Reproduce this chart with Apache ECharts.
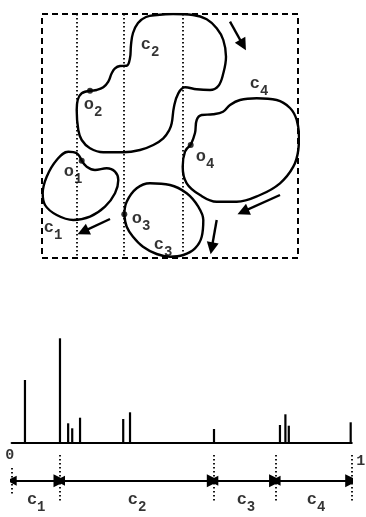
<!DOCTYPE html>
<html><head><meta charset="utf-8">
<script src="https://cdn.jsdelivr.net/npm/echarts@6/dist/echarts.min.js"></script>
<style>html,body{margin:0;padding:0;background:#fff}#c{width:366px;height:517px}</style>
</head><body><div id="c"></div>
<script>
// ---------- top panel (coordinates in panel units) ----------
const boxCorners = [[42,14],[298,14],[298,258],[42,258],[42,14]];
const stripLines = [77, 124, 183];
const curveC1 = [[81.7,160.7],[86.7,166.7],[95,170],[106.7,168.3],[115,171.7],[118.3,180],[115,193.3],[105,206.7],[90,216.7],[73.3,220],[56.7,215],[45,205],[42.7,193.3],[46.7,176.7],[56.7,160],[68.3,151.7],[76.7,153.3],[81.7,160.7]];
const curveC2 = [[90,90.7],[96.7,90],[103.3,87.3],[108.3,81.7],[111.7,73.3],[115,68.3],[120,66],[126.7,65.7],[130,58],[131,45],[133,33],[138,23],[146,17],[157,15],[173,14],[193,15],[206.7,19.3],[216.7,28.3],[223.3,40],[226,56.7],[223.3,73.3],[218.3,86],[210,90],[196.7,89.3],[185,87.3],[178.3,93.3],[174,106.7],[171.7,123.3],[169.3,130],[163.3,138.3],[153.3,145],[140,150],[123.3,152.3],[103.3,152.3],[90,148.3],[81.7,140],[78.3,130],[76.7,110],[77.7,100],[81.7,93.3],[90,90.7]];
const curveC3 = [[124.3,214.3],[126.7,201.7],[136.7,188.3],[150,183.3],[170,185],[186.7,193.3],[198.3,206.7],[203.3,220],[201.7,236.7],[195,248.3],[183.3,255],[170,256.7],[156.7,254],[143,246.7],[133,236.7],[126.7,226.7],[124.3,214.3]];
const curveC4 = [[190.7,145],[195,133],[196.7,120],[201.7,115],[213,114.3],[223,111.7],[230,105],[240,100],[256.7,98.3],[276.7,100],[290,108],[296.7,120],[299,136.7],[298.3,150],[293.3,166.7],[280,183.3],[260,195],[236.7,201.7],[216.7,201.7],[200,195],[186.7,183.3],[182.7,166.7],[185,151.7],[190.7,145]];
const startPoints = [[81.7,160.7],[90,90.7],[124.3,214.3],[190.7,145]];
const arrows = [[[230,21.7],[243,45]],[[280,195],[243,211.7]],[[216.7,220],[211.7,248.3]],[[110,219],[83,231.7]]];
const topLabels = [['c','2',150,45],['c','4',259,84],['c','1',53,228],['c','3',163,245],['o','1',73,172],['o','2',93,105],['o','3',141,219],['o','4',205,157]];

// ---------- bottom panel ----------
const spikeX = [0.039,0.142,0.166,0.178,0.201,0.328,0.348,0.595,0.789,0.805,0.815,0.997];
const spikeH = [62.7,104.4,19.4,14.4,25,23.7,30.4,13.7,17.7,28.4,17,20.4];
const bounds = [0,0.142,0.593,0.776,1];
const segLabels = ['1','2','3','4'];
const segLabelX = [0.072,0.369,0.689,0.895];
const endLabels = [['0',0,5],['1',1,11]];

const rich = {
  m:{fontFamily:'Liberation Mono',fontWeight:'bold',fontSize:17,color:'#000'},
  s:{fontFamily:'Liberation Mono',fontWeight:'bold',fontSize:14,color:'#000',padding:[15,0,0,0]}
};

const series = [];
// dashed box
series.push({type:'line',xAxisIndex:0,yAxisIndex:0,data:boxCorners,symbol:'none',silent:true,
  lineStyle:{color:'#000',width:2,type:[6,4]}});
// dotted strips
series.push({type:'lines',coordinateSystem:'cartesian2d',xAxisIndex:0,yAxisIndex:0,silent:true,
  data:stripLines.map(x=>({coords:[[x,14],[x,258]]})),lineStyle:{color:'#000',width:1.8,type:[1.6,2.4],opacity:1}});
[curveC1,curveC2,curveC3,curveC4].forEach(c=>series.push({type:'line',xAxisIndex:0,yAxisIndex:0,data:c,symbol:'none',smooth:0.4,silent:true,
  lineStyle:{color:'#000',width:2.4}}));
series.push({type:'scatter',xAxisIndex:0,yAxisIndex:0,data:startPoints,symbolSize:6,itemStyle:{color:'#000'},silent:true});
series.push({type:'lines',coordinateSystem:'cartesian2d',xAxisIndex:0,yAxisIndex:0,silent:true,
  data:arrows.map(a=>({coords:a})),symbol:['none','triangle'],symbolSize:[9,12],lineStyle:{color:'#000',width:2.4,opacity:1}});
series.push({type:'scatter',xAxisIndex:0,yAxisIndex:0,symbolSize:0,silent:true,
  data:topLabels.map(l=>({value:[l[2],l[3]],label:{show:true,position:'inside',formatter:'{m|'+l[0]+'}{s|'+l[1]+'}',rich:rich}}))});
// spikes
series.push({type:'bar',xAxisIndex:1,yAxisIndex:1,barWidth:2.2,silent:true,
  data:spikeX.map((x,i)=>[x,spikeH[i]]),itemStyle:{color:'#000'}});
// bracket
series.push({type:'lines',coordinateSystem:'cartesian2d',xAxisIndex:2,yAxisIndex:2,silent:true,
  data:bounds.map((b,i)=>({coords:i===0?[[b,18],[b,45]]:[[b,5],[b,53]]})),lineStyle:{color:'#000',width:1.8,type:[1.6,2.4],opacity:1}});
series.push({type:'lines',coordinateSystem:'cartesian2d',xAxisIndex:2,yAxisIndex:2,silent:true,
  data:bounds.slice(0,-1).map((b,i)=>({coords:[[b,30.7],[bounds[i+1],30.7]]})),symbol:['triangle','triangle'],symbolSize:[10,13],lineStyle:{color:'#000',width:1.8,opacity:1}});
series.push({type:'scatter',xAxisIndex:2,yAxisIndex:2,symbolSize:0,silent:true,
  data:segLabels.map((s,i)=>({value:[segLabelX[i],50],label:{show:true,position:'inside',formatter:'{m|c}{s|'+s+'}',rich:rich}}))});
series.push({type:'scatter',xAxisIndex:2,yAxisIndex:2,symbolSize:0,silent:true,
  data:endLabels.map(l=>({value:[l[1],l[2]],label:{show:true,position:'inside',offset:[l[0]==='0'?-2:9,0],formatter:l[0],
    fontFamily:'Liberation Mono',fontWeight:'bold',fontSize:15,color:'#000'}}))});

const chart = echarts.init(document.getElementById('c'),null,{renderer:'canvas'});
chart.setOption({
  animation:false,
  backgroundColor:'#fff',
  grid:[
    {left:42,top:14,width:256,height:244},
    {left:11.7,top:332.7,width:340,height:110},
    {left:11.7,top:450,width:340,height:60}
  ],
  xAxis:[
    {gridIndex:0,type:'value',min:42,max:298,show:false},
    {gridIndex:1,type:'value',min:0,max:1,axisLine:{show:true,onZero:true,lineStyle:{color:'#000',width:2.2}},axisTick:{show:false},axisLabel:{show:false},splitLine:{show:false}},
    {gridIndex:2,type:'value',min:0,max:1,show:false}
  ],
  yAxis:[
    {gridIndex:0,type:'value',min:14,max:258,inverse:true,show:false},
    {gridIndex:1,type:'value',min:0,max:110,show:false},
    {gridIndex:2,type:'value',min:0,max:60,inverse:true,show:false}
  ],
  series:series
});
</script></body></html>
